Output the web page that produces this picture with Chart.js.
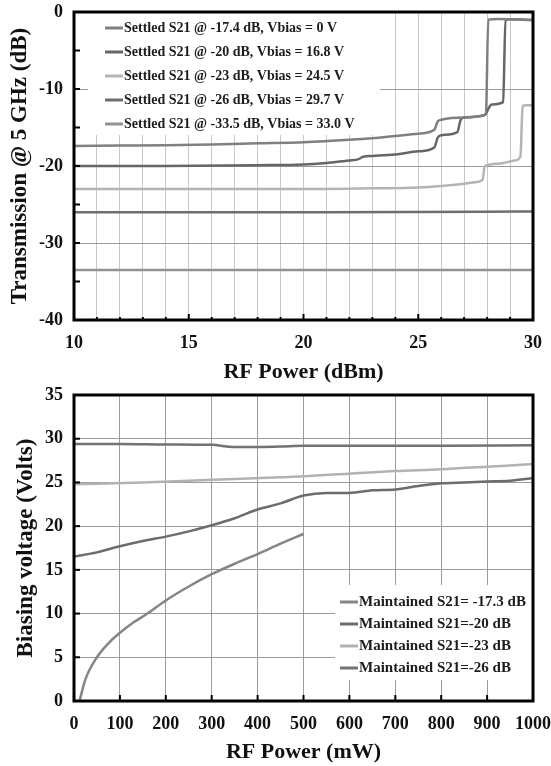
<!DOCTYPE html>
<html>
<head>
<meta charset="utf-8">
<script src="https://cdn.jsdelivr.net/npm/chart.js@4/dist/chart.umd.min.js"></script>
<style>
body{margin:0;background:#fff;width:551px;height:766px;overflow:hidden}
#wrapTop{position:absolute;left:0;top:0;width:551px;height:386px}
#wrapBot{position:absolute;left:0;top:386px;width:551px;height:380px}
</style>
</head>
<body>
<div id="wrapTop"><canvas id="chartTransHTML"></canvas></div>
<div id="wrapBot"><canvas id="chartBiasHTML"></canvas></div>
<script>
// ---- top panel: transmission @ 5 GHz vs RF power (dBm)
const settledLabels=['Settled S21 @ -17.4 dB, Vbias = 0 V','Settled S21 @ -20 dB, Vbias = 16.8 V','Settled S21 @ -23 dB, Vbias = 24.5 V','Settled S21 @ -26 dB, Vbias = 29.7 V','Settled S21 @ -33.5 dB, Vbias = 33.0 V']
const settledColors=['#808080','#666666','#b4b4b4','#6e6e6e','#939393']

const s174X=[10,12,14,16,18,20,22,23,24,25,25.7,25.85,26,27,27.95,28.05,28.5,29,30]
const s174Y=[-17.4,-17.35,-17.3,-17.2,-17.05,-16.9,-16.6,-16.4,-16.1,-15.8,-15.3,-14.2,-14.0,-13.7,-13.3,-1.0,-0.9,-0.95,-1.05]
const s20X=[10,14,18,20,21,22,22.4,22.6,23,24,25,25.7,25.85,26,26.7,26.85,27,27.9,28.05,28.2,28.7,28.8,29,30]
const s20Y=[-20.0,-20.0,-19.9,-19.8,-19.6,-19.3,-19.1,-18.8,-18.7,-18.5,-18.1,-17.6,-16.3,-16.0,-15.6,-14.0,-13.7,-13.4,-12.6,-12.0,-11.7,-1.0,-0.95,-1.05]
const s23X=[10,15,20,23,25,26,27,27.5,27.8,27.9,28.5,29.2,29.45,29.55,29.7,30]
const s23Y=[-23.0,-23.0,-23.0,-22.9,-22.8,-22.6,-22.3,-22.1,-21.8,-20.0,-19.7,-19.3,-18.8,-12.2,-12.1,-12.1]
const s26X=[10,20,28,30]
const s26Y=[-26.0,-26.0,-25.95,-25.9]
const s335X=[10,20,30]
const s335Y=[-33.5,-33.5,-33.5]

// ---- bottom panel: biasing voltage vs RF power (mW)
const maintainedLabels=['Maintained S21= -17.3 dB','Maintained S21=-20 dB','Maintained S21=-23 dB','Maintained S21=-26 dB']
const maintainedColors=['#858585','#6c6c6c','#b2b2b2','#727272']

const m173X=[12,25,50,75,100,130,160,200,250,300,350,400,450,500]
const m173Y=[0,2.5,5,6.6,7.8,9.0,10.0,11.5,13.1,14.5,15.7,16.8,18.0,19.1]
const m20X=[0,50,100,150,200,250,300,350,400,450,500,550,600,650,700,750,800,850,900,950,1000]
const m20Y=[16.5,17.0,17.7,18.3,18.8,19.4,20.1,20.9,21.9,22.6,23.5,23.8,23.8,24.1,24.2,24.6,24.9,25.0,25.1,25.2,25.5]
const m23X=[0,150,300,450,500,600,700,800,900,1000]
const m23Y=[24.8,25.0,25.3,25.6,25.7,26.0,26.3,26.5,26.8,27.1]
const m26X=[0,100,200,300,350,400,450,500,600,800,1000]
const m26Y=[29.4,29.4,29.35,29.3,29.05,29.05,29.1,29.2,29.2,29.2,29.25]

const serif='"Liberation Serif", "Times New Roman", serif'

function pts(xs,ys){return xs.map((x,i)=>({x:x,y:ys[i]}))}
function makeSet(label,color,xs,ys){
 return {label:label,data:pts(xs,ys),borderColor:color,backgroundColor:color,borderWidth:2.5,pointRadius:0,fill:false,cubicInterpolationMode:'monotone'}
}
// fixed box sizes so the plot frame lands where the original has it
function fixX(h){return s=>{s.height=h;s.paddingLeft=0;s.paddingRight=0}}
function fixY(w){return s=>{s.width=w;s.paddingTop=0;s.paddingBottom=0}}

// legend box + inward ticks + thick frame
const framePlugin={
 id:'frame',
 afterDatasetsDraw(chart,args,o){
  const ctx=chart.ctx,a=chart.chartArea
  ctx.save()
  ctx.fillStyle='#fff'
  ctx.fillRect(o.box[0],o.box[1],o.box[2]-o.box[0],o.box[3]-o.box[1])
  ctx.font='bold '+o.fontSize+'px '+serif
  ctx.textBaseline='middle'
  ctx.textAlign='left'
  chart.data.datasets.forEach((d,i)=>{
   const y=o.rowY+i*o.rowGap
   ctx.strokeStyle=d.borderColor;ctx.lineWidth=3
   ctx.beginPath();ctx.moveTo(o.lineX[0],y);ctx.lineTo(o.lineX[1],y);ctx.stroke()
   ctx.fillStyle='#1c1c1c'
   ctx.fillText(d.label,o.lineX[1]+1,y)
  })
  ctx.strokeStyle='#000';ctx.lineWidth=2
  const xs=chart.scales.x,ys=chart.scales.y
  xs.ticks.forEach(t=>{
   const px=xs.getPixelForValue(t.value)
   const len=(t.value%o.xMajor===0)?6:3
   ctx.beginPath();ctx.moveTo(px,a.bottom);ctx.lineTo(px,a.bottom-len);ctx.stroke()
  })
  ys.ticks.forEach(t=>{
   const py=ys.getPixelForValue(t.value)
   ctx.beginPath();ctx.moveTo(a.left,py);ctx.lineTo(a.left+6,py);ctx.stroke()
  })
  ctx.lineWidth=3
  ctx.strokeRect(a.left,a.top,a.right-a.left,a.bottom-a.top)
  ctx.restore()
 }
}

function LoadTrans(){
 const sets=[
  makeSet(settledLabels[0],settledColors[0],s174X,s174Y),
  makeSet(settledLabels[1],settledColors[1],s20X,s20Y),
  makeSet(settledLabels[2],settledColors[2],s23X,s23Y),
  makeSet(settledLabels[3],settledColors[3],s26X,s26Y),
  makeSet(settledLabels[4],settledColors[4],s335X,s335Y)
 ]
 new Chart(document.getElementById('chartTransHTML'),{
  type:'line',
  data:{datasets:sets},
  options:{
   animation:false,responsive:true,maintainAspectRatio:false,
   layout:{padding:{top:12,right:18,left:0,bottom:0}},
   plugins:{legend:{display:false},tooltip:{enabled:false},
    frame:{box:[88,12,380,135],fontSize:14,rowY:28,rowGap:24,lineX:[105,123],xMajor:5}},
   scales:{
    x:{type:'linear',min:10,max:30,
     afterFit:fixX(66),
     border:{display:false},
     grid:{color:'#c8c8c8',lineWidth:1,drawTicks:false},
     ticks:{stepSize:1,autoSkip:false,maxRotation:0,padding:13,color:'#111',font:{family:serif,size:18,weight:'bold'},
      callback:v=>v%5===0?String(v):''},
     title:{display:true,text:'RF Power (dBm)',color:'#111',font:{family:serif,size:22,weight:'bold'},padding:{top:0,bottom:0}}
    },
    y:{min:-40,max:0,
     afterFit:fixY(74),
     border:{display:false},
     grid:{drawTicks:false,lineWidth:1,color:c=>(c.tick&&c.tick.value%10===0)?'#9a9a9a':'rgba(0,0,0,0)'},
     ticks:{stepSize:5,padding:11,color:'#111',font:{family:serif,size:18,weight:'bold'},
      callback:v=>v%10===0?String(v):''},
     title:{display:true,text:'Transmission @ 5 GHz (dB)',color:'#111',font:{family:serif,size:23,weight:'bold'},padding:{top:6,bottom:0}}
    }
   }
  },
  plugins:[framePlugin]
 })
}

function LoadBias(){
 const sets=[
  makeSet(maintainedLabels[0],maintainedColors[0],m173X,m173Y),
  makeSet(maintainedLabels[1],maintainedColors[1],m20X,m20Y),
  makeSet(maintainedLabels[2],maintainedColors[2],m23X,m23Y),
  makeSet(maintainedLabels[3],maintainedColors[3],m26X,m26Y)
 ]
 new Chart(document.getElementById('chartBiasHTML'),{
  type:'line',
  data:{datasets:sets},
  options:{
   animation:false,responsive:true,maintainAspectRatio:false,
   layout:{padding:{top:9,right:18,left:0,bottom:0}},
   plugins:{legend:{display:false},tooltip:{enabled:false},
    frame:{box:[335,199,533,294],fontSize:15,rowY:216,rowGap:22,lineX:[340,358],xMajor:100}},
   scales:{
    x:{type:'linear',min:0,max:1000,
     afterFit:fixX(65),
     border:{display:false},
     grid:{color:'#9c9c9c',lineWidth:1,drawTicks:false},
     ticks:{stepSize:100,autoSkip:false,maxRotation:0,padding:13,color:'#111',font:{family:serif,size:18,weight:'bold'},
      callback:v=>String(v)},
     title:{display:true,text:'RF Power (mW)',color:'#111',font:{family:serif,size:22,weight:'bold'},padding:{top:0,bottom:0}}
    },
    y:{min:0,max:35,
     afterFit:fixY(74),
     border:{display:false},
     grid:{color:'#9c9c9c',lineWidth:1,drawTicks:false},
     ticks:{stepSize:5,padding:11,color:'#111',font:{family:serif,size:18,weight:'bold'}},
     title:{display:true,text:'Biasing voltage (Volts)',color:'#111',font:{family:serif,size:23,weight:'bold'},padding:{top:12,bottom:0}}
    }
   }
  },
  plugins:[framePlugin]
 })
}

LoadTrans()
LoadBias()
</script>
</body>
</html>
